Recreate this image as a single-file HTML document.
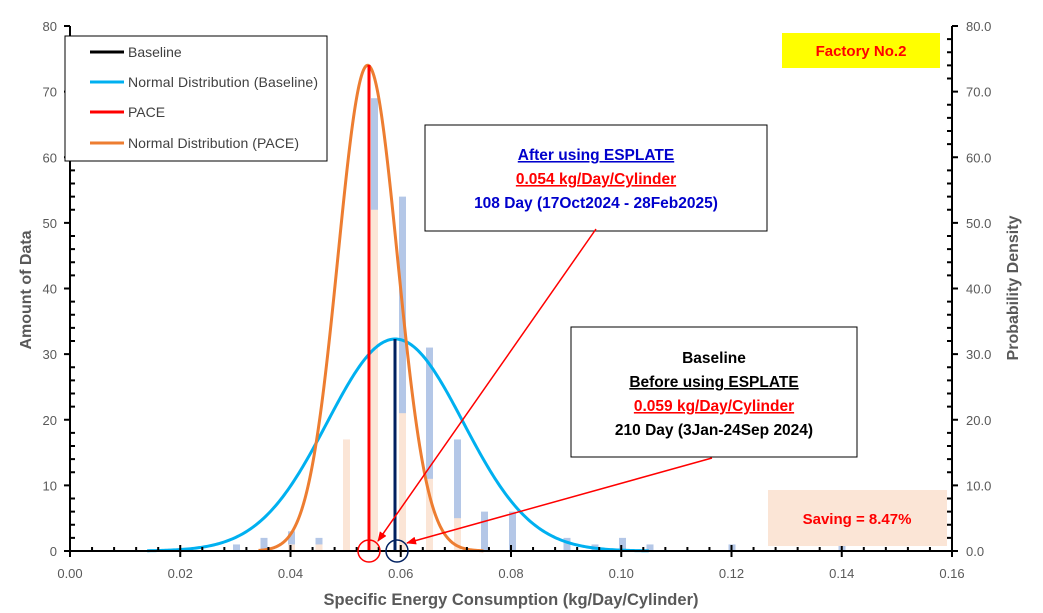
<!DOCTYPE html>
<html><head><meta charset="utf-8"><style>
body{margin:0;background:#fff}
svg{display:block;font-family:"Liberation Sans",sans-serif}
</style></head><body>
<svg id="s" width="1043" height="613" viewBox="0 0 1043 613">
<g id="bars"></g>
<path id="blue" fill="none" stroke="#00b0f0" stroke-width="3"/>
<path id="orange" fill="none" stroke="#ed7d31" stroke-width="3"/>
<line x1="395" y1="551" x2="395" y2="339" stroke="#002060" stroke-width="3"/>
<line x1="369" y1="551" x2="369" y2="65" stroke="#ff0000" stroke-width="3"/>
<g id="axes" stroke="#000" stroke-width="2"></g>
<g id="labels" fill="#595959" font-size="13"></g>
<text x="511" y="605" text-anchor="middle" font-size="16.5" font-weight="bold" fill="#595959">Specific Energy Consumption  (kg/Day/Cylinder)</text>
<text transform="translate(31,290) rotate(-90)" text-anchor="middle" font-size="16" font-weight="bold" fill="#595959">Amount  of  Data</text>
<text transform="translate(1018,288) rotate(-90)" text-anchor="middle" font-size="16" font-weight="bold" fill="#595959">Probability Density</text>
<!-- legend -->
<rect x="65" y="36" width="262" height="125" fill="#fff" stroke="#000" stroke-width="1"/>
<g font-size="14" fill="#404040">
<line x1="90" y1="52" x2="124" y2="52" stroke="#000" stroke-width="3"/><text x="128" y="57">Baseline</text>
<line x1="90" y1="82" x2="124" y2="82" stroke="#00b0f0" stroke-width="3"/><text x="128" y="87" textLength="190">Normal Distribution (Baseline)</text>
<line x1="90" y1="112" x2="124" y2="112" stroke="#ff0000" stroke-width="3"/><text x="128" y="117">PACE</text>
<line x1="90" y1="143" x2="124" y2="143" stroke="#ed7d31" stroke-width="3"/><text x="128" y="148" textLength="171">Normal Distribution (PACE)</text>
</g>
<!-- factory -->
<rect x="782" y="33" width="158" height="35" fill="#ffff00"/>
<text x="861" y="56" text-anchor="middle" font-size="15" font-weight="bold" fill="#ff0000">Factory No.2</text>
<!-- saving -->
<rect x="768" y="490" width="179" height="56" fill="#fbe5d6"/>
<text x="857" y="524" text-anchor="middle" font-size="15" font-weight="bold" fill="#ff0000">Saving = 8.47%</text>
<!-- box1 -->
<rect x="425" y="125" width="342" height="106" fill="#fff" stroke="#000" stroke-width="1"/>
<g font-size="15.5" font-weight="bold" text-anchor="middle">
<text x="596" y="160" fill="#0000cc" text-decoration="underline">After using ESPLATE</text>
<text x="596" y="184" fill="#ff0000" text-decoration="underline">0.054 kg/Day/Cylinder</text>
<text x="596" y="208" fill="#0000cc">108 Day (17Oct2024 - 28Feb2025)</text>
</g>
<!-- box2 -->
<rect x="571" y="327" width="286" height="130" fill="#fff" stroke="#000" stroke-width="1"/>
<g font-size="15.5" font-weight="bold" text-anchor="middle" fill="#000">
<text x="714" y="363">Baseline</text>
<text x="714" y="387" text-decoration="underline">Before using ESPLATE</text>
<text x="714" y="411" fill="#ff0000" text-decoration="underline">0.059 kg/Day/Cylinder</text>
<text x="714" y="435">210 Day (3Jan-24Sep 2024)</text>
</g>
<!-- arrows -->
<defs><marker id="ar" markerWidth="10" markerHeight="8" refX="9" refY="4" orient="auto" markerUnits="userSpaceOnUse"><path d="M0,0L10,4L0,8z" fill="#ff0000"/></marker></defs>
<line x1="596" y1="229" x2="378" y2="541" stroke="#ff0000" stroke-width="1.5" marker-end="url(#ar)"/>
<line x1="712" y1="458" x2="407" y2="543" stroke="#ff0000" stroke-width="1.5" marker-end="url(#ar)"/>
<circle cx="369" cy="551" r="11" fill="none" stroke="#ff0000" stroke-width="1.5"/>
<circle cx="397" cy="551" r="11" fill="none" stroke="#002060" stroke-width="1.5"/>
</svg>
<script>
var NS="http://www.w3.org/2000/svg";
function X(v){return 70+v*5512.5}
function Y(v){return 551-v*6.5625}
function el(p,t,a){var e=document.createElementNS(NS,t);for(var k in a)e.setAttribute(k,a[k]);p.appendChild(e);return e}
var bars=document.getElementById("bars");
var data=[[236.5,1,0],[264,2,0],[291.5,3,1],[319,2,1],[346.5,0,17],[374.5,69,52],[402.5,54,21],[429.5,31,11],[457.5,17,5],[484.5,6,0],[512.5,6,0],[567,2,0],[595,1,0],[622.5,2,0],[650,1,0],[732,1,0],[842,1,0]];
data.forEach(function(d){
 if(d[1]>0)el(bars,"rect",{x:d[0]-3.5,y:Y(d[1]),width:7,height:d[1]*6.5625,fill:"#b4c7e7"});
 if(d[2]>0)el(bars,"rect",{x:d[0]-3.5,y:Y(d[2]),width:7,height:d[2]*6.5625,fill:"#fbe5d6"});
});
function curve(id,m,s,a,b){var p="";for(var i=0;i<=300;i++){var x=a+(b-a)*i/300;var y=Math.exp(-0.5*Math.pow((x-m)/s,2))/(s*Math.sqrt(2*Math.PI));p+=(i?"L":"M")+X(x).toFixed(2)+","+Y(y).toFixed(2)}document.getElementById(id).setAttribute("d",p)}
curve("blue",0.059,0.01235,0.0140,0.105);
curve("orange",0.054,0.00539,0.0342,0.0750);
var ax=document.getElementById("axes"),lb=document.getElementById("labels");
el(ax,"line",{x1:70,y1:26,x2:70,y2:552});
el(ax,"line",{x1:952,y1:26,x2:952,y2:552});
el(ax,"line",{x1:69,y1:551,x2:953,y2:551});
for(var i=0;i<=40;i++){var x=X(i*0.004);var maj=(i%5==0);el(ax,"line",{x1:x,y1:maj?545:547,x2:x,y2:maj?557:551});}
for(var i=0;i<=8;i++){var x=X(i*0.02);var t=el(lb,"text",{x:x,y:578,"text-anchor":"middle"});t.textContent=(i*0.02).toFixed(2);}
for(var v=0;v<=80;v+=2){var y=Y(v);var maj=(v%10==0);
 el(ax,"line",{x1:maj?64:70,y1:y,x2:maj?70:75,y2:y});
 el(ax,"line",{x1:maj?952:947,y1:y,x2:maj?958:952,y2:y});
 if(maj){var t=el(lb,"text",{x:57,y:y+5,"text-anchor":"end"});t.textContent=v;
 var t2=el(lb,"text",{x:966,y:y+5});t2.textContent=v.toFixed(1);}}
</script>
</body></html>
